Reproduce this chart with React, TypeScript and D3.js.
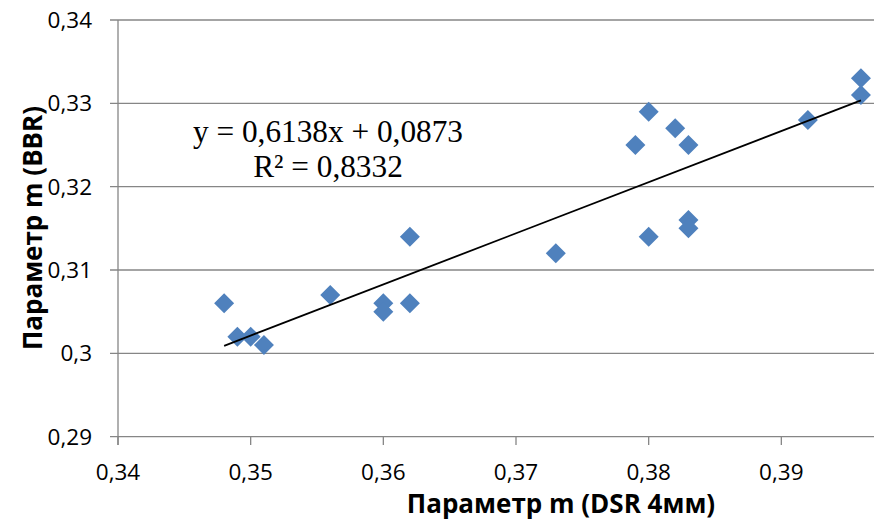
import React from 'react';
import * as d3 from 'd3';

// measured points: DSR 4mm (x) vs BBR (y)
const xVals = [0.348, 0.349, 0.350, 0.351, 0.356, 0.360, 0.360, 0.362, 0.362, 0.373,
  0.379, 0.380, 0.380, 0.382, 0.383, 0.383, 0.383, 0.392, 0.396, 0.396];
const yVals = [0.306, 0.302, 0.302, 0.301, 0.307, 0.306, 0.305, 0.314, 0.306, 0.312,
  0.325, 0.329, 0.314, 0.327, 0.325, 0.316, 0.315, 0.328, 0.331, 0.333];
const xTicks = [0.34, 0.35, 0.36, 0.37, 0.38, 0.39];
const yTicks = [0.29, 0.30, 0.31, 0.32, 0.33, 0.34];
const slope = 0.6138;
const intercept = 0.0873;

const W = 874, H = 525;
const fmt = (v: number) => String(+v.toFixed(2)).replace('.', ',');

const App = () => {
    const x = d3.scaleLinear().domain([0.34, 0.40]).range([118, 914]);
    const y = d3.scaleLinear().domain([0.29, 0.34]).range([436.7, 20]);
    const x0 = d3.min(xVals) as number, x1 = d3.max(xVals) as number;
    const diamond = d3.symbol().type(d3.symbolSquare).size(200)();
    const tickFont = '"Open Sans", "Liberation Sans", sans-serif';
    const serif = '"Liberation Serif", serif';

    return (
        <svg width={W} height={H} style={{ position: 'absolute', left: 0, top: 0, background: '#fff' }}>
            {yTicks.map(t => (
                <g key={'y' + t}>
                    <line x1={110} x2={W} y1={y(t)} y2={y(t)} stroke="#868686" strokeWidth={1.3} />
                    <text x={92} y={y(t)} dy="0.35em" textAnchor="end" fontSize={22.5} fontFamily={tickFont}>{fmt(t)}</text>
                </g>
            ))}
            <line x1={118} x2={118} y1={20} y2={445} stroke="#868686" strokeWidth={1.3} />
            {xTicks.map(t => (
                <g key={'x' + t}>
                    <line x1={x(t)} x2={x(t)} y1={436.7} y2={445} stroke="#868686" strokeWidth={1.3} />
                    <text x={x(t)} y={472} dy="0.35em" textAnchor="middle" fontSize={22.5} fontFamily={tickFont}>{fmt(t)}</text>
                </g>
            ))}
            {xVals.map((v, i) => (
                <path key={i} d={diamond as string} fill="#4F81BD"
                    transform={`translate(${x(v)},${y(yVals[i])}) rotate(45)`} />
            ))}
            <line x1={x(x0)} y1={y(slope * x0 + intercept)} x2={x(x1)} y2={y(slope * x1 + intercept)}
                stroke="#000" strokeWidth={1.8} />
            <text x={328} y={142} textAnchor="middle" fontSize={31.3} fontFamily={serif}>y = 0,6138x + 0,0873</text>
            <text x={328} y={177} textAnchor="middle" fontSize={31.3} fontFamily={serif}>R² = 0,8332</text>
            <text x={561} y={513} textAnchor="middle" fontSize={26} fontWeight="bold" fontFamily={tickFont}>Параметр m (DSR 4мм)</text>
            <text transform="translate(33,228) rotate(-90)" dy="0.35em" textAnchor="middle" fontSize={26} fontWeight="bold" fontFamily={tickFont}>Параметр m (BBR)</text>
        </svg>
    );
};

export default App;
